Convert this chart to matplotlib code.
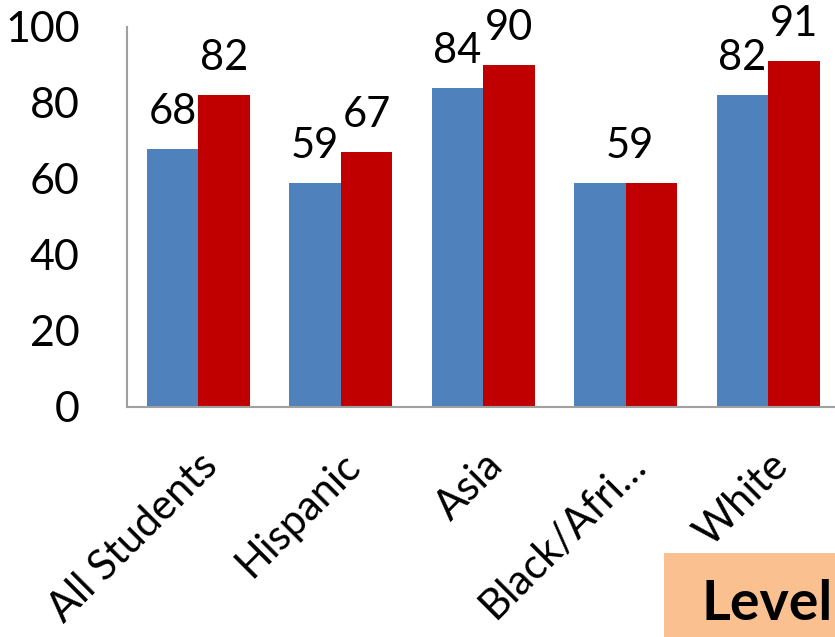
import numpy as np
import matplotlib
matplotlib.use("Agg")
import matplotlib.pyplot as plt
from matplotlib.patches import Rectangle

categories = ["All Students", "Hispanic", "Asia", "Black/Afri…", "White"]
series_a = [68, 59, 84, 59, 82]
series_b = [82, 67, 90, 59, 91]
yticks = [0, 20, 40, 60, 80, 100]

BLUE = "#4F81BD"
RED = "#C00000"
GRAY = "#A0A0A0"

plt.rcParams["font.family"] = ["Lato", "DejaVu Sans"]

fig = plt.figure(figsize=(8.35, 6.37), dpi=100)
ax = fig.add_axes([127 / 835, 230 / 637, 712.5 / 835, 380 / 637])

x = np.arange(len(categories))
w = 0.36
ax.bar(x - w / 2, series_a, width=w, color=BLUE, zorder=2)
ax.bar(x + w / 2, series_b, width=w, color=RED, zorder=2)

lbl = dict(xytext=(0, 18), textcoords="offset points", ha="center", va="baseline", fontsize=30)
for i, (a, b) in enumerate(zip(series_a, series_b)):
    if a == b:
        # overlapping labels show as one
        ax.annotate(str(a), (x[i] + 0.03, a), **lbl)
        continue
    ax.annotate(str(a), (x[i] - w / 2, a), **lbl)
    ax.annotate(str(b), (x[i] + w / 2, b), **lbl)

ax.set_xlim(-0.5, len(categories) - 0.5)
ax.set_ylim(0, 100)
ax.set_yticks(yticks)
ax.set_yticklabels([str(t) for t in yticks], fontsize=31)
ax.tick_params(axis="y", length=0, pad=34)
ax.set_xticks(x)
ax.set_xticklabels(categories, fontsize=30, rotation=45, ha="right", rotation_mode="anchor")
ax.tick_params(axis="x", length=0, pad=28)

for s in ["top", "right"]:
    ax.spines[s].set_visible(False)
for s in ["left", "bottom"]:
    ax.spines[s].set_color(GRAY)
    ax.spines[s].set_linewidth(1.5)

fig.patches.append(Rectangle((664 / 835, 0), 200 / 835, 84 / 637, transform=fig.transFigure,
                             facecolor="#FAC090", edgecolor="none", zorder=0))
fig.text(702 / 835, 17 / 637, "Level", fontsize=40, fontweight="bold", ha="left", va="baseline")

fig.savefig("out.png", dpi=100)
